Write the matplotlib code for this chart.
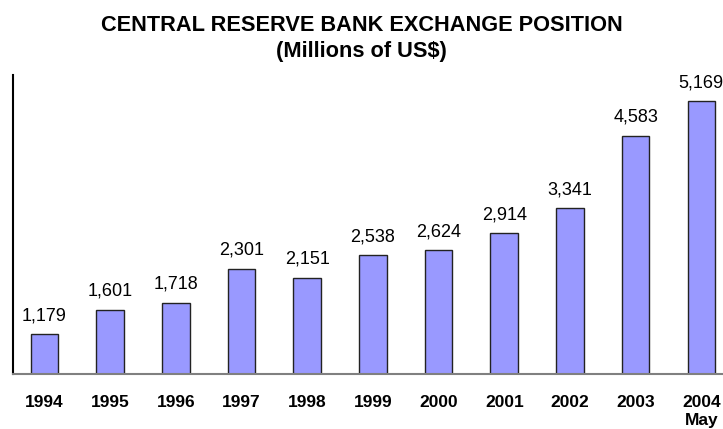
import numpy as np
import matplotlib
matplotlib.use("Agg")
import matplotlib.pyplot as plt

plt.rcParams['font.family'] = ['Liberation Sans', 'DejaVu Sans']

years = ["1994", "1995", "1996", "1997", "1998", "1999",
         "2000", "2001", "2002", "2003", "2004\nMay"]
reserves = [1179, 1601, 1718, 2301, 2151, 2538, 2624, 2914, 3341, 4583, 5169]

fig = plt.figure(figsize=(7.23, 4.29), dpi=100)
ax = fig.add_axes([13 / 723, 55 / 429, 1 - 13 / 723, 299 / 429])

x = np.arange(len(years))
bars = ax.bar(x, reserves, width=0.42, color="#9999FF",
              edgecolor="#222222", linewidth=1.0)

for xi, val in zip(x, reserves):
    ax.annotate(f"{val:,}", (xi, val), xytext=(0, 10), textcoords="offset points",
                ha="center", va="baseline", fontsize=13)

ax.set_xlim(-0.48, 10.33)
ax.set_ylim(500, 5620)
ax.set_xticks(x)
ax.set_xticklabels(years, fontweight="bold", fontsize=12.5, linespacing=1.3)
ax.tick_params(axis="x", length=0, pad=15)
ax.set_yticks([])

for side in ("top", "right"):
    ax.spines[side].set_visible(False)
ax.spines["left"].set_color("black")
ax.spines["left"].set_linewidth(1.5)
ax.spines["bottom"].set_color("#808080")
ax.spines["bottom"].set_linewidth(1.5)

fig.text(0.5, 1 - 25.5 / 429, "CENTRAL RESERVE BANK EXCHANGE POSITION",
         ha="center", va="center", fontsize=15.7, fontweight="bold")
fig.text(0.5, 1 - 51 / 429, "(Millions of US$)",
         ha="center", va="center", fontsize=15.7, fontweight="bold")

fig.savefig("out.png", dpi=100)
